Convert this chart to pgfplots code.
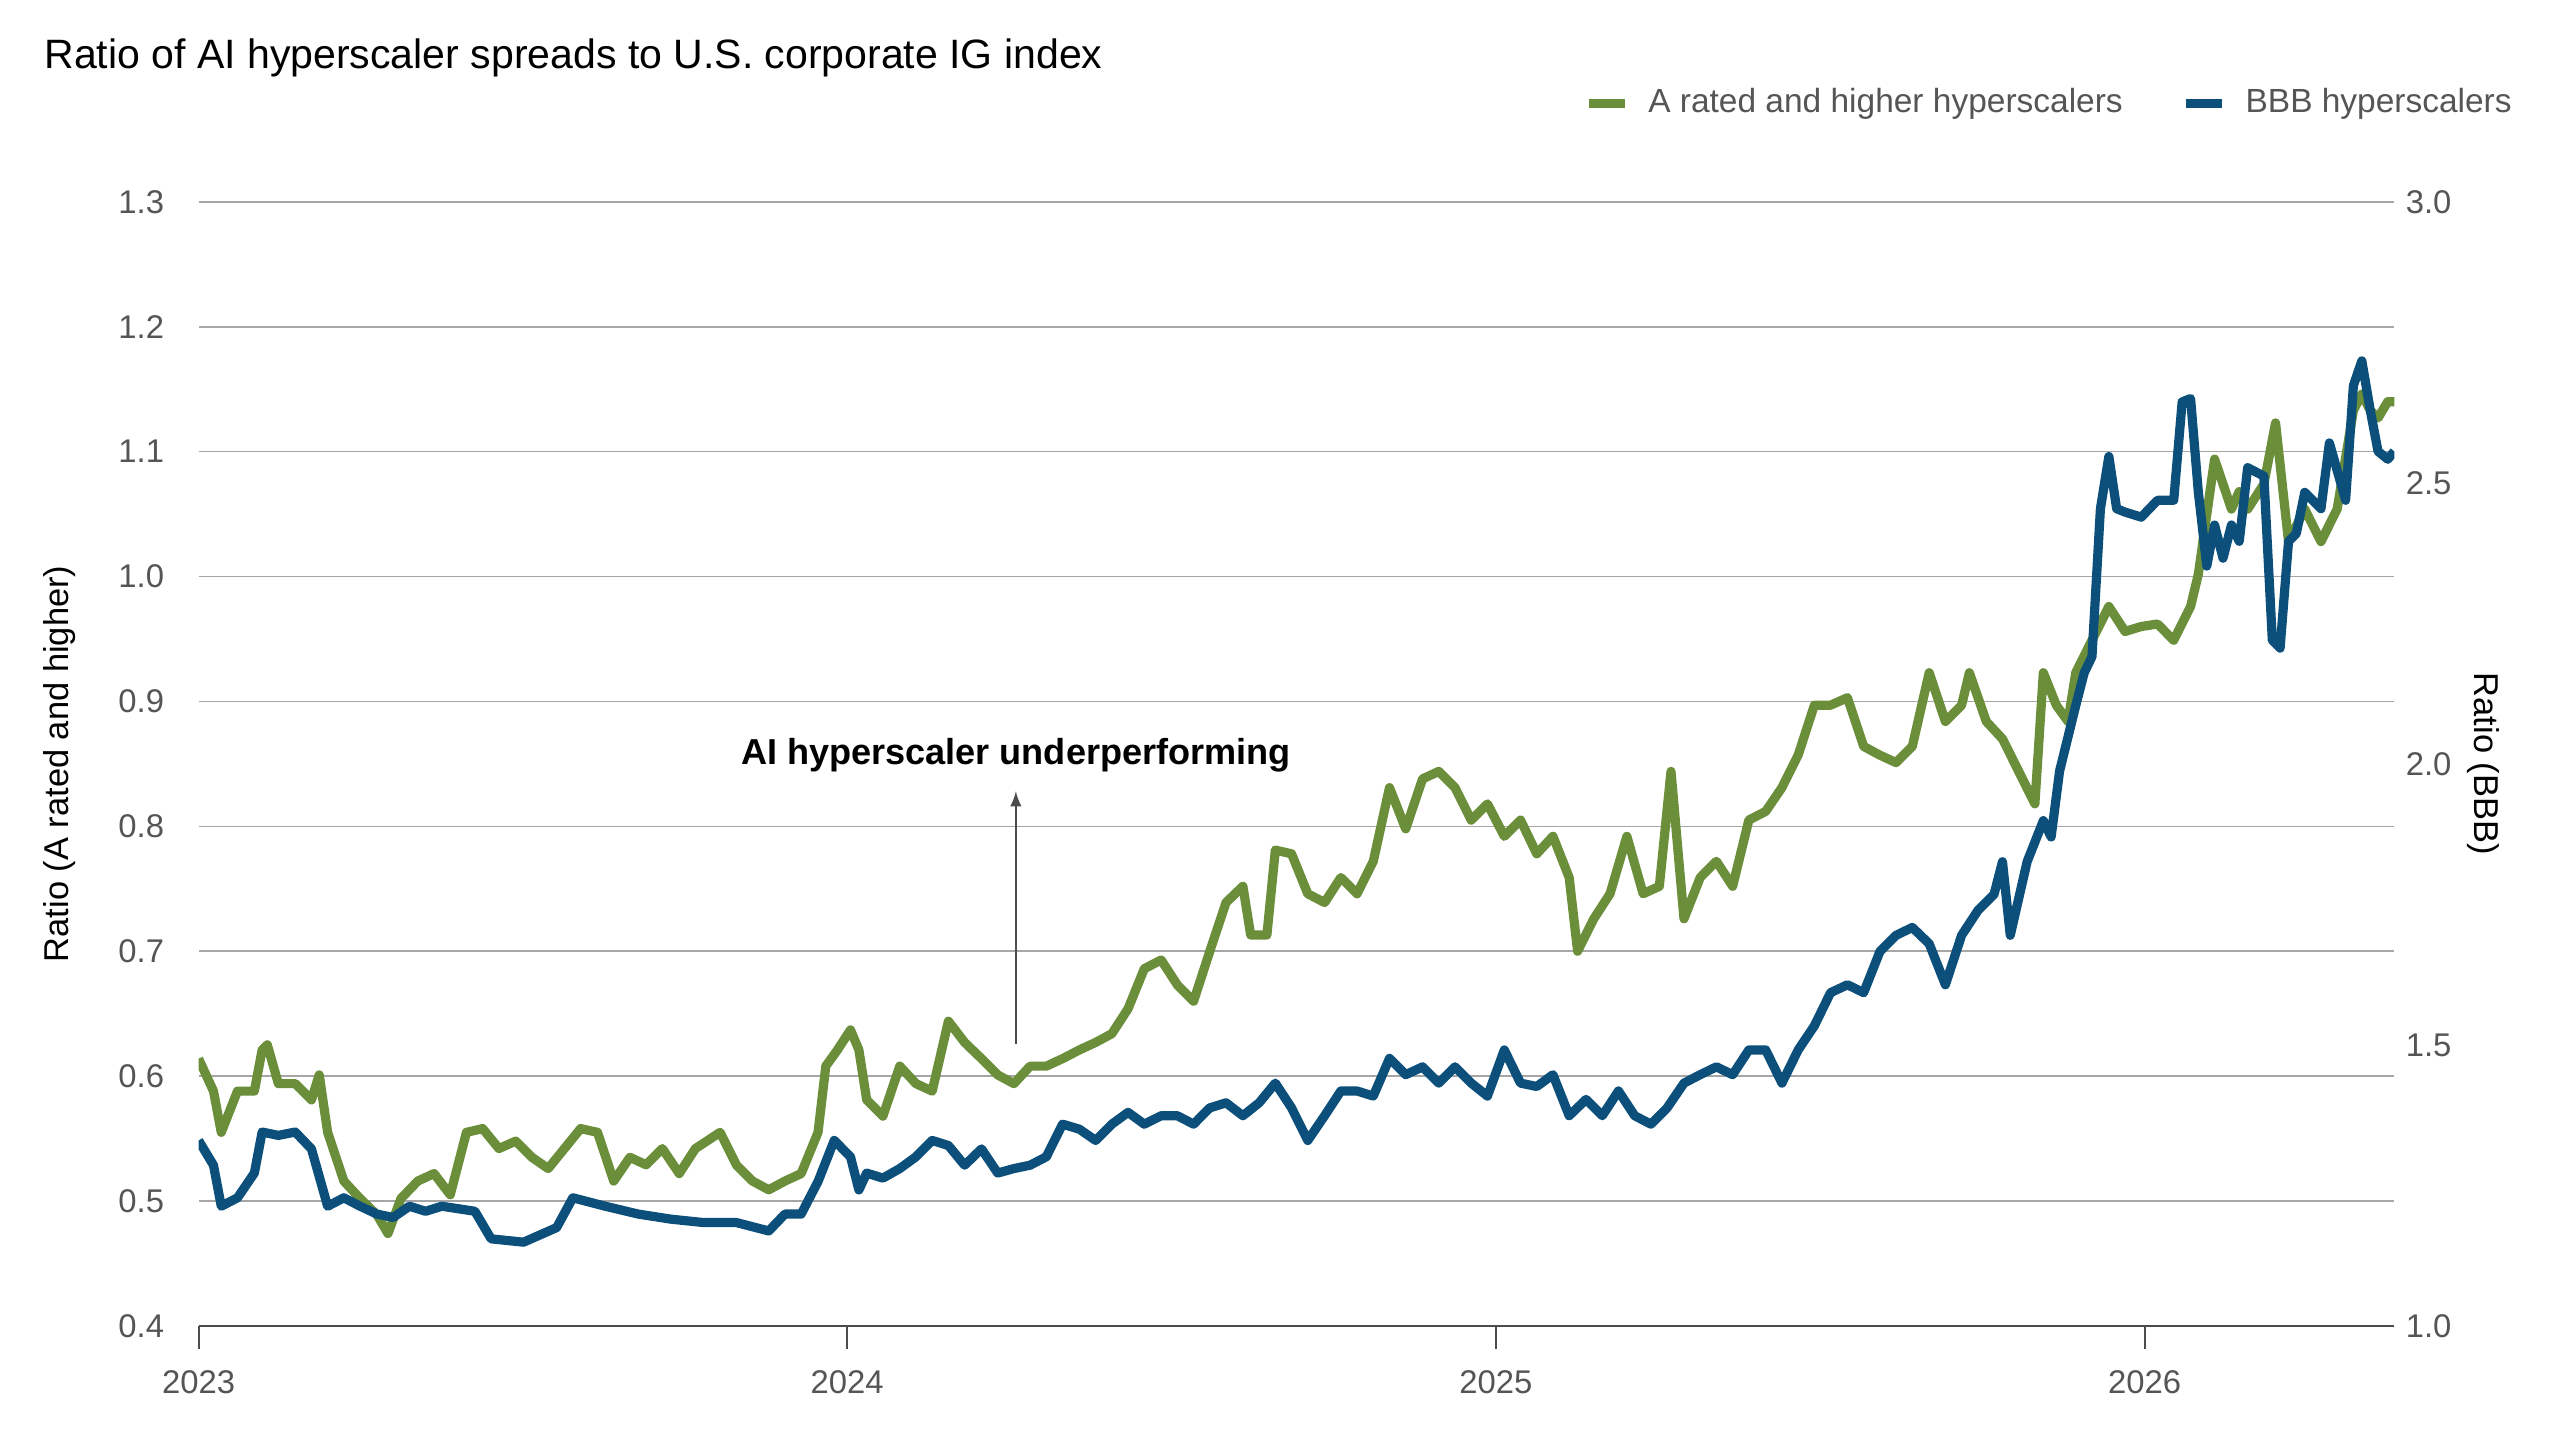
\documentclass[border=0pt]{standalone}
\usepackage{pgfplots}
\pgfplotsset{compat=1.18}
\usepackage{fontspec}
\setmainfont{Liberation Sans}
\definecolor{gr}{HTML}{6B8E3A}
\definecolor{bl}{HTML}{0B4F7A}
\definecolor{tx}{HTML}{555555}
\begin{document}
\begin{tikzpicture}
\path[use as bounding box] (0,0) rectangle (780pt,439pt);
\pgfplotsset{base/.style={scale only axis, width=669pt, height=342.5pt,
  at={(60.5pt,35pt)}, anchor=south west, xmin=2023, xmax=2026.385,
  /pgf/number format/assume math mode=true,
  ticklabel style={font=\fontsize{10}{12}\selectfont, text=tx},
  label style={font=\fontsize{10.5}{12}\selectfont, text=black},
  scaled ticks=false}}
\begin{axis}[base, ymin=0.4, ymax=1.3, ytick={0.4,0.5,...,1.3},
  yticklabel style={/pgf/number format/.cd, fixed, fixed zerofill, precision=1},
  ymajorgrids, grid style={gray!70, line width=0.5pt},
  axis y line*=left, y axis line style={draw=none}, ytick style={draw=none},
  axis x line*=bottom, x axis line style={black!70,line width=0.6pt},
  xtick={2023,2024,2025,2026}, xticklabels={2023,2024,2025,2026},
  xtick style={black!70, line width=0.6pt}, tick align=outside, major tick length=7pt,
  xticklabel style={yshift=-3pt},
  ylabel={Ratio (A rated and higher)}, ylabel style={yshift=6pt}]
\addplot[gr, line width=2.8pt, line join=round] coordinates {
(2023.000,0.614)(2023.023,0.588)(2023.035,0.555)(2023.060,0.588)(2023.086,0.588)(2023.098,0.621)(2023.106,0.625)(2023.123,0.594)(2023.149,0.594)(2023.174,0.581)(2023.186,0.601)(2023.199,0.555)(2023.224,0.516)(2023.249,0.502)(2023.275,0.489)(2023.292,0.474)(2023.312,0.502)(2023.338,0.516)(2023.363,0.522)(2023.388,0.505)(2023.413,0.555)(2023.438,0.558)(2023.463,0.542)(2023.489,0.548)(2023.514,0.535)(2023.539,0.526)(2023.564,0.542)(2023.589,0.558)(2023.615,0.555)(2023.640,0.516)(2023.665,0.535)(2023.690,0.529)(2023.715,0.542)(2023.741,0.522)(2023.766,0.542)(2023.804,0.555)(2023.829,0.529)(2023.854,0.516)(2023.879,0.509)(2023.904,0.516)(2023.929,0.522)(2023.955,0.555)(2023.967,0.608)(2023.985,0.621)(2024.005,0.637)(2024.018,0.621)(2024.030,0.581)(2024.055,0.568)(2024.081,0.608)(2024.106,0.594)(2024.131,0.588)(2024.156,0.644)(2024.181,0.627)(2024.207,0.614)(2024.232,0.601)(2024.257,0.594)(2024.282,0.608)(2024.307,0.608)(2024.332,0.614)(2024.358,0.621)(2024.383,0.627)(2024.408,0.634)(2024.433,0.654)(2024.458,0.686)(2024.484,0.693)(2024.509,0.673)(2024.534,0.660)(2024.559,0.700)(2024.584,0.739)(2024.610,0.752)(2024.622,0.713)(2024.647,0.713)(2024.660,0.781)(2024.685,0.778)(2024.710,0.746)(2024.736,0.739)(2024.761,0.759)(2024.786,0.746)(2024.811,0.772)(2024.836,0.831)(2024.861,0.798)(2024.887,0.838)(2024.912,0.844)(2024.937,0.831)(2024.962,0.805)(2024.987,0.818)(2025.013,0.792)(2025.038,0.805)(2025.063,0.778)(2025.088,0.792)(2025.113,0.759)(2025.126,0.700)(2025.151,0.726)(2025.176,0.746)(2025.202,0.792)(2025.227,0.746)(2025.252,0.752)(2025.270,0.844)(2025.290,0.726)(2025.315,0.759)(2025.340,0.772)(2025.365,0.752)(2025.390,0.805)(2025.416,0.812)(2025.441,0.831)(2025.466,0.857)(2025.491,0.897)(2025.516,0.897)(2025.542,0.903)(2025.567,0.864)(2025.592,0.857)(2025.617,0.851)(2025.642,0.864)(2025.668,0.923)(2025.693,0.884)(2025.718,0.897)(2025.730,0.923)(2025.756,0.884)(2025.781,0.870)(2025.806,0.844)(2025.831,0.818)(2025.844,0.923)(2025.864,0.897)(2025.882,0.884)(2025.894,0.923)(2025.919,0.949)(2025.945,0.976)(2025.970,0.956)(2025.995,0.960)(2026.020,0.962)(2026.045,0.949)(2026.071,0.976)(2026.083,1.002)(2026.108,1.094)(2026.134,1.054)(2026.146,1.068)(2026.159,1.054)(2026.184,1.074)(2026.202,1.123)(2026.222,1.028)(2026.247,1.054)(2026.272,1.028)(2026.297,1.054)(2026.322,1.133)(2026.335,1.146)(2026.348,1.133)(2026.360,1.127)(2026.375,1.140)(2026.385,1.140)};
\node[font=\bfseries\fontsize{11}{13}\selectfont] at (axis cs:2024.26,0.857) {AI hyperscaler underperforming};
\draw[-latex, black!70, line width=0.6pt] (axis cs:2024.26,0.626) -- (axis cs:2024.26,0.828);
\end{axis}
\begin{axis}[base, ymin=1.0, ymax=3.0, ytick={1.0,1.5,...,3.0},
  yticklabel style={/pgf/number format/.cd, fixed, fixed zerofill, precision=1},
  axis y line*=right, y axis line style={draw=none}, ytick style={draw=none},
  axis x line=none,
  ylabel={Ratio (BBB)}, ylabel style={rotate=180, yshift=-2pt}]
\addplot[bl, line width=2.8pt, line join=round] coordinates {
(2023.000,1.330)(2023.023,1.286)(2023.035,1.213)(2023.060,1.228)(2023.086,1.272)(2023.098,1.345)(2023.123,1.339)(2023.149,1.345)(2023.174,1.315)(2023.199,1.213)(2023.224,1.228)(2023.249,1.213)(2023.275,1.199)(2023.300,1.193)(2023.325,1.213)(2023.350,1.204)(2023.375,1.213)(2023.426,1.204)(2023.451,1.155)(2023.501,1.149)(2023.552,1.175)(2023.577,1.228)(2023.627,1.213)(2023.678,1.199)(2023.728,1.190)(2023.778,1.184)(2023.829,1.184)(2023.879,1.169)(2023.904,1.199)(2023.929,1.199)(2023.955,1.257)(2023.980,1.330)(2024.005,1.301)(2024.018,1.242)(2024.030,1.272)(2024.055,1.263)(2024.081,1.280)(2024.106,1.301)(2024.131,1.330)(2024.156,1.321)(2024.181,1.286)(2024.207,1.315)(2024.232,1.272)(2024.257,1.280)(2024.282,1.286)(2024.307,1.301)(2024.332,1.359)(2024.358,1.350)(2024.383,1.330)(2024.408,1.359)(2024.433,1.380)(2024.458,1.359)(2024.484,1.374)(2024.509,1.374)(2024.534,1.359)(2024.559,1.388)(2024.584,1.397)(2024.610,1.374)(2024.635,1.397)(2024.660,1.432)(2024.685,1.388)(2024.710,1.330)(2024.736,1.374)(2024.761,1.418)(2024.786,1.418)(2024.811,1.409)(2024.836,1.476)(2024.861,1.447)(2024.887,1.461)(2024.912,1.432)(2024.937,1.461)(2024.962,1.432)(2024.987,1.409)(2025.013,1.491)(2025.038,1.432)(2025.063,1.426)(2025.088,1.447)(2025.113,1.374)(2025.139,1.403)(2025.164,1.374)(2025.189,1.418)(2025.214,1.374)(2025.239,1.359)(2025.264,1.388)(2025.290,1.432)(2025.315,1.447)(2025.340,1.461)(2025.365,1.447)(2025.390,1.491)(2025.416,1.491)(2025.441,1.432)(2025.466,1.491)(2025.491,1.534)(2025.516,1.593)(2025.542,1.607)(2025.567,1.593)(2025.592,1.666)(2025.617,1.695)(2025.642,1.709)(2025.668,1.680)(2025.693,1.607)(2025.718,1.695)(2025.743,1.739)(2025.768,1.768)(2025.781,1.826)(2025.793,1.695)(2025.819,1.826)(2025.844,1.899)(2025.856,1.870)(2025.869,1.987)(2025.894,2.104)(2025.907,2.162)(2025.919,2.191)(2025.932,2.454)(2025.945,2.547)(2025.957,2.454)(2025.970,2.448)(2025.995,2.439)(2026.020,2.469)(2026.045,2.469)(2026.058,2.644)(2026.071,2.650)(2026.083,2.483)(2026.096,2.352)(2026.108,2.425)(2026.121,2.366)(2026.134,2.425)(2026.146,2.396)(2026.159,2.527)(2026.184,2.512)(2026.197,2.220)(2026.209,2.206)(2026.222,2.396)(2026.234,2.410)(2026.247,2.483)(2026.272,2.454)(2026.285,2.571)(2026.310,2.469)(2026.322,2.673)(2026.335,2.717)(2026.348,2.629)(2026.360,2.556)(2026.375,2.542)(2026.385,2.556)};
\end{axis}
\node[anchor=west, font=\fontsize{12.5}{15}\selectfont] at (10pt,421.5pt) {Ratio of AI hyperscaler spreads to U.S. corporate IG index};
\draw[gr, line width=2.8pt] (484pt,407.5pt) -- (495pt,407.5pt);
\node[anchor=west, text=tx, font=\fontsize{10.2}{12}\selectfont, inner sep=0pt] at (502pt,407.5pt) {A rated and higher hyperscalers};
\draw[bl, line width=2.8pt] (666pt,407.5pt) -- (677pt,407.5pt);
\node[anchor=west, text=tx, font=\fontsize{10.2}{12}\selectfont, inner sep=0pt] at (684pt,407.5pt) {BBB hyperscalers};
\end{tikzpicture}
\end{document}
